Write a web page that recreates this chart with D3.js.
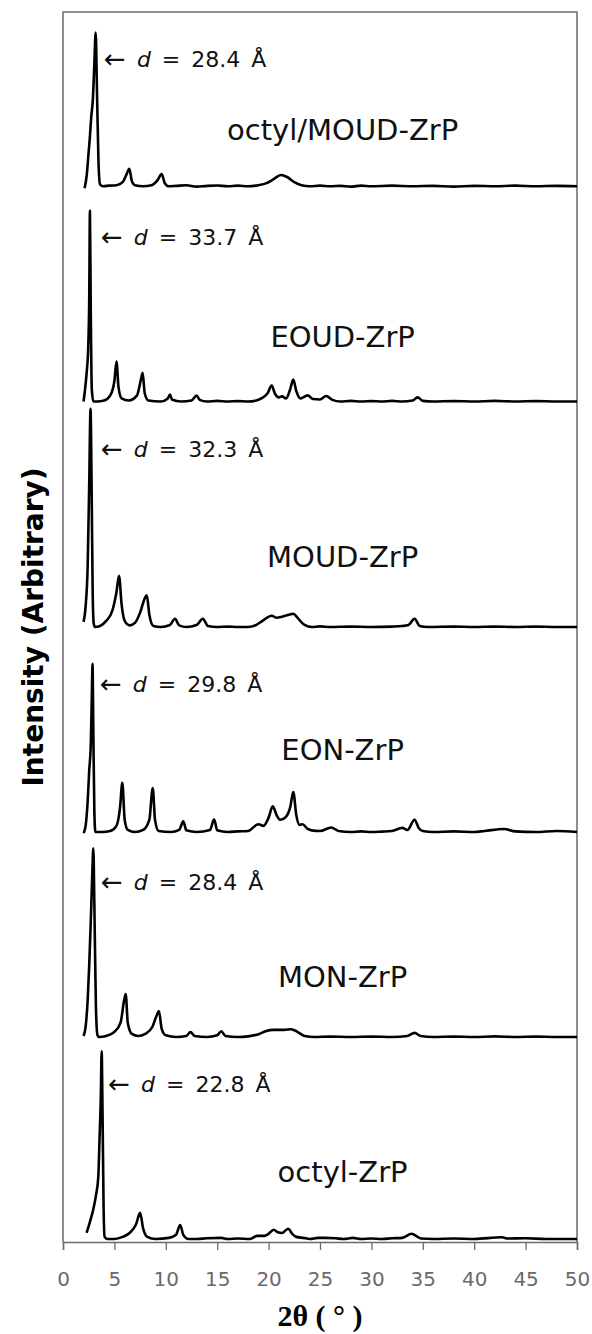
<!DOCTYPE html>
<html>
<head>
<meta charset="utf-8">
<script src="https://cdn.jsdelivr.net/npm/d3@7"></script>
<style>
  html, body { margin: 0; padding: 0; background: #fff; }
  svg { display: block; }
</style>
</head>
<body>
<svg id="chart"></svg>
<script>
// данные: [2θ (°), интенсивность (отн. ед.)]
let octylMoudZrP = [[2.1,-10],[2.3,50],[2.5,170],[2.6,230],[2.75,340],[2.9,420],[3.05,600],[3.18,750],[3.3,480],[3.45,120],[3.6,10],[3.9,0],[4.5,3],[5.2,5],[5.8,20],[6.2,60],[6.45,85],[6.7,25],[7.0,5],[7.8,0],[8.6,5],[9.2,30],[9.6,60],[9.9,15],[10.3,0],[11,2],[12,5],[13,-2],[14,2],[15,4],[16,0],[17,3],[18,0],[19,5],[19.8,15],[20.5,35],[21.2,55],[21.8,45],[22.5,20],[23.2,5],[24,0],[25,3],[26,0],[27,2],[28,-2],[29,3],[30,0],[32,3],[34,0],[36,2],[38,-2],[40,2],[42,0],[44,3],[46,0],[48,2],[50,0]];
let eoudZrP = [[2.0,0],[2.1,40],[2.3,140],[2.45,260],[2.55,500],[2.62,930],[2.7,450],[2.8,60],[2.95,0],[3.3,0],[4.0,5],[4.6,30],[5.0,100],[5.2,195],[5.4,70],[5.7,15],[6.4,5],[7.2,30],[7.55,100],[7.75,140],[7.95,40],[8.3,5],[9.5,0],[10.2,15],[10.4,34],[10.6,10],[11.5,0],[12.5,5],[13.0,29],[13.3,8],[14,0],[15,3],[16,0],[17,2],[18,0],[18.8,5],[19.3,15],[19.9,40],[20.3,78],[20.6,40],[21.0,20],[21.3,25],[21.7,15],[22.1,60],[22.4,107],[22.7,50],[23.1,15],[23.8,30],[24.3,12],[25.0,10],[25.6,27],[26.2,8],[27,0],[28,3],[29,0],[30,2],[31,0],[32,3],[33,0],[34,5],[34.5,20],[35,3],[36,0],[38,2],[40,0],[42,3],[44,0],[46,2],[48,0],[50,0]];
let moudZrP = [[2.0,25],[2.2,100],[2.4,300],[2.55,700],[2.68,1065],[2.78,700],[2.88,200],[2.98,20],[3.1,0],[3.6,5],[4.2,30],[4.8,80],[5.2,170],[5.45,250],[5.7,110],[6.0,30],[6.5,8],[7.0,20],[7.5,70],[7.95,140],[8.15,155],[8.4,60],[8.8,5],[9.5,0],[10.4,10],[10.9,40],[11.3,8],[12,0],[13.0,10],[13.6,40],[14.1,5],[15,0],[16,2],[17,0],[18,0],[18.8,10],[19.4,30],[20.3,55],[20.8,45],[21.3,50],[22.0,60],[22.4,65],[22.9,40],[23.5,10],[24.2,0],[25,3],[26,0],[28,2],[30,0],[32,2],[33,5],[33.6,10],[34.2,40],[34.7,5],[35.5,0],[38,2],[40,0],[42,2],[44,0],[46,2],[48,0],[50,0]];
let eonZrP = [[2.0,-5],[2.2,30],[2.4,150],[2.55,300],[2.7,420],[2.8,650],[2.87,820],[2.95,500],[3.05,100],[3.15,0],[3.8,0],[4.6,5],[5.2,30],[5.55,120],[5.77,240],[6.0,60],[6.3,10],[7.0,0],[7.8,10],[8.4,60],[8.73,215],[8.95,60],[9.3,5],[10.5,0],[11.3,10],[11.7,52],[12.0,8],[13,0],[14.3,10],[14.7,62],[15.0,8],[16,0],[17,3],[18,5],[19.0,38],[19.5,30],[20.0,70],[20.4,125],[20.8,80],[21.1,60],[21.6,70],[22.1,120],[22.4,195],[22.7,80],[23.0,35],[23.3,38],[23.8,15],[24.2,8],[25,5],[26.1,22],[26.8,5],[28,0],[29,3],[30,0],[31,2],[32,5],[33.0,20],[33.5,10],[34.2,60],[34.6,20],[35,5],[36,0],[38,3],[40,0],[41,5],[42.9,15],[44,3],[46,0],[48,5],[50,0]];
let monZrP = [[2.0,5],[2.2,50],[2.4,180],[2.55,350],[2.7,560],[2.85,800],[2.95,920],[3.05,650],[3.2,150],[3.35,10],[3.5,0],[4.2,5],[5.0,25],[5.6,70],[5.95,180],[6.1,210],[6.3,70],[6.7,15],[7.3,5],[8.0,15],[8.7,50],[9.15,110],[9.33,127],[9.6,40],[10.0,8],[11,0],[12.0,5],[12.4,24],[12.8,5],[14,0],[15.0,8],[15.4,28],[15.8,5],[17,0],[18,3],[19.1,15],[19.7,28],[20.5,35],[21.5,35],[22.2,38],[22.8,25],[23.5,5],[24.5,0],[26,2],[28,0],[30,2],[32,0],[33.5,5],[34.2,20],[34.8,5],[36,0],[38,2],[40,0],[42,3],[44,0],[46,2],[48,0],[50,0]];
let octylZrP = [[2.3,30],[2.6,80],[2.95,145],[3.2,210],[3.43,300],[3.55,480],[3.68,700],[3.76,915],[3.85,600],[3.95,150],[4.05,10],[4.3,0],[5.0,0],[5.8,10],[6.5,30],[7.1,70],[7.5,127],[7.8,50],[8.2,10],[9,0],[10.3,5],[11.0,20],[11.4,68],[11.7,20],[12.2,0],[13,0],[14,3],[15.4,5],[16,0],[17,2],[18.2,0],[18.9,15],[19.6,15],[20.0,25],[20.5,45],[20.9,32],[21.3,29],[21.9,50],[22.3,25],[22.7,10],[23.4,5],[24.0,0],[24.8,5],[25.5,5],[26.5,3],[27.3,0],[28.2,5],[29,0],[30,2],[31,0],[32,3],[33.0,5],[33.9,25],[34.5,10],[34.8,2],[36,0],[38,2],[40,0],[42.7,8],[43.3,2],[45,3],[47,0],[50,0]];

let sampleNames = ["octyl/MOUD-ZrP", "EOUD-ZrP", "MOUD-ZrP", "EON-ZrP", "MON-ZrP", "octyl-ZrP"];
let dSpacings = ["28.4", "33.7", "32.3", "29.8", "28.4", "22.8"];
let offsets = [5150, 4100, 3000, 2000, 1000, 15]; // сдвиг кривых по вертикали
let xTicks = [0, 5, 10, 15, 20, 25, 30, 35, 40, 45, 50];

// положение подписей (в единицах графика, относительно базовой линии)
let dLabelX = [4.0, 3.7, 3.7, 3.6, 3.7, 4.4];
let dLabelY = [582, 763, 829, 683, 717, 717];
let nameX = 27.2;
let nameY = [226, 266, 293, 351, 244, 278];

let traces = [octylMoudZrP, eoudZrP, moudZrP, eonZrP, monZrP, octylZrP];

const svgWidth = 592, svgHeight = 1334;
const margin = {top: 12, right: 15, bottom: 92, left: 63};

let svg = d3.select("#chart").attr("width", svgWidth).attr("height", svgHeight);

let x = d3.scaleLinear().domain([0, 50]).range([margin.left, svgWidth - margin.right]);
let y = d3.scaleLinear().domain([0, 6000]).range([svgHeight - margin.bottom, margin.top]);

// рамка
svg.append("path")
    .attr("d", `M${x(0)},${y(0)}V${y(6000)}H${x(50)}V${y(0)}`)
    .attr("fill", "none")
    .attr("stroke", "#6a6a6a")
    .attr("stroke-width", 1.5);

// ось x
let xAxis = svg.append("g")
    .attr("transform", `translate(0,${y(0)})`)
    .call(d3.axisBottom(x).tickValues(xTicks).tickSize(8).tickPadding(22).tickFormat(d3.format("d")));
xAxis.select(".domain").attr("stroke", "#6a6a6a").attr("stroke-width", 1.5);
xAxis.selectAll(".tick line").attr("stroke", "#6a6a6a").attr("stroke-width", 1.3);
xAxis.selectAll(".tick text")
    .attr("font-family", "DejaVu Sans, Verdana, sans-serif")
    .attr("font-size", 20)
    .attr("fill", "#6a6a6a");

// кривые
let line = d3.line()
    .x(d => x(d[0]))
    .y(d => y(d[1]))
    .curve(d3.curveMonotoneX);

svg.selectAll("path.trace")
    .data(traces)
    .enter()
    .append("path")
    .attr("class", "trace")
    .attr("d", (d, i) => line(d.map(p => [p[0], p[1] + offsets[i]])))
    .attr("fill", "none")
    .attr("stroke", "#000")
    .attr("stroke-width", 2.6)
    .attr("stroke-linejoin", "round");

// подписи d
let dLabels = svg.selectAll("text.dlab")
    .data(dSpacings)
    .enter()
    .append("text")
    .attr("class", "dlab")
    .attr("x", (d, i) => x(dLabelX[i]))
    .attr("y", (d, i) => y(offsets[i] + dLabelY[i]))
    .attr("font-family", "DejaVu Sans, Verdana, sans-serif")
    .attr("font-size", 22)
    .attr("word-spacing", 4)
    .attr("fill", "#111")
    .attr("xml:space", "preserve");
dLabels.append("tspan").attr("font-size", 26).attr("dy", 1).text("\u2190");
dLabels.append("tspan").attr("dy", -1).text(" ");
dLabels.append("tspan").attr("font-style", "italic").text("d");
dLabels.append("tspan").text(d => " = " + d + " \u00c5");

// названия образцов
svg.selectAll("text.name")
    .data(sampleNames)
    .enter()
    .append("text")
    .attr("class", "name")
    .attr("x", x(nameX))
    .attr("y", (d, i) => y(offsets[i] + nameY[i]))
    .attr("text-anchor", "middle")
    .attr("font-family", "DejaVu Sans, Verdana, sans-serif")
    .attr("font-size", 29)
    .attr("fill", "#111")
    .text(d => d);

// подписи осей
svg.append("text")
    .attr("x", x(25))
    .attr("y", 1326)
    .attr("text-anchor", "middle")
    .attr("font-family", "Liberation Serif, Times New Roman, serif")
    .attr("font-weight", "bold")
    .attr("font-size", 30)
    .attr("fill", "#000")
    .attr("xml:space", "preserve")
    .text("2\u03b8 ( \u00b0 )");

svg.append("text")
    .attr("transform", `translate(43,${y(3000)}) rotate(-90)`)
    .attr("text-anchor", "middle")
    .attr("font-family", "DejaVu Sans, Verdana, sans-serif")
    .attr("font-weight", "bold")
    .attr("font-size", 28)
    .attr("fill", "#000")
    .text("Intensity (Arbitrary)");
</script>
</body>
</html>
